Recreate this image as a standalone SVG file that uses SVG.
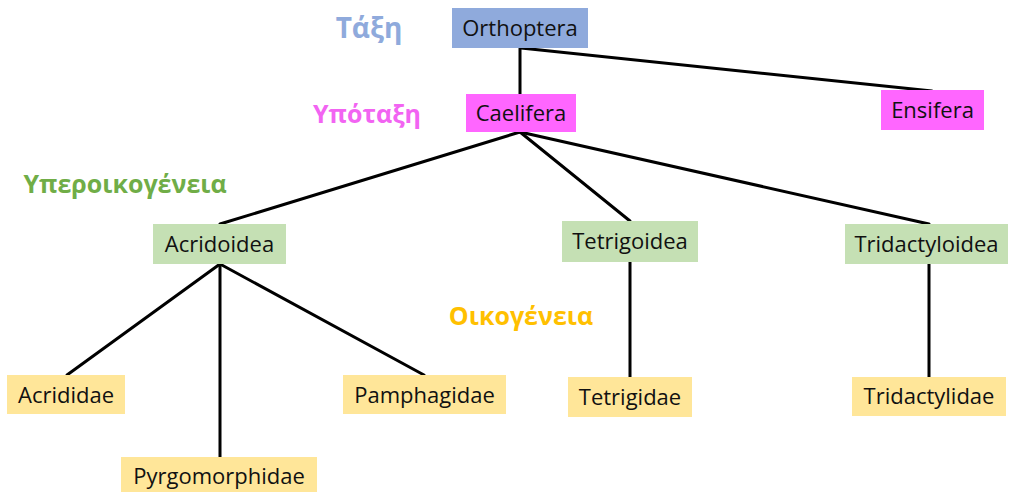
<svg xmlns="http://www.w3.org/2000/svg" width="1010" height="492" viewBox="0 0 1010 492">
<style>
.t{font-family:"Open Sans","Liberation Sans",sans-serif;font-size:22px;fill:#111;text-anchor:middle}
.lab{font-family:"Open Sans","Liberation Sans",sans-serif;font-size:25px;font-weight:bold;text-anchor:middle}
.blue{fill:#8faadc}.pink{fill:#ff66ff}.green{fill:#c5e0b4}.yellow{fill:#ffe699}
.conn line{stroke:#000;stroke-width:3;stroke-linecap:round}
</style>
<rect width="1010" height="492" fill="#fff"/>
<g id="labels">
<text class="lab" x="369" y="38" fill="#8faadc" style="font-size:28px">Τάξη</text>
<text class="lab" x="367" y="123" fill="#f264f2">Υπόταξη</text>
<text class="lab" x="125" y="193" fill="#70ad47">Υπεροικογένεια</text>
<text class="lab" x="521" y="325" fill="#ffc000">Οικογένεια</text>
</g>
<g class="conn" id="connectors">
<line x1="520" y1="48" x2="520" y2="94"/>
<line x1="521" y1="48" x2="932" y2="91"/>
<line x1="520" y1="132" x2="220" y2="224"/>
<line x1="520" y1="132" x2="630" y2="221"/>
<line x1="520" y1="132" x2="929" y2="224"/>
<line x1="630" y1="262" x2="630" y2="377"/>
<line x1="929" y1="264" x2="929" y2="377"/>
<line x1="220" y1="264" x2="67" y2="375"/>
<line x1="220" y1="264" x2="220" y2="457"/>
<line x1="220" y1="264" x2="424" y2="375"/>
</g>
<g id="orthoptera"><rect class="blue" x="452" y="8" width="136" height="40"/><text class="t" x="520" y="36">Orthoptera</text></g>
<g id="caelifera"><rect class="pink" x="466" y="94" width="110" height="38"/><text class="t" x="521" y="121">Caelifera</text></g>
<g id="ensifera"><rect class="pink" x="881" y="90" width="103" height="40"/><text class="t" x="932.5" y="118">Ensifera</text></g>
<g id="acridoidea"><rect class="green" x="153" y="224" width="133" height="40"/><text class="t" x="219.5" y="252">Acridoidea</text></g>
<g id="tetrigoidea"><rect class="green" x="562" y="221" width="136" height="41"/><text class="t" x="630" y="249">Tetrigoidea</text></g>
<g id="tridactyloidea"><rect class="green" x="845" y="224" width="163" height="40"/><text class="t" x="926.5" y="252">Tridactyloidea</text></g>
<g id="acrididae"><rect class="yellow" x="7" y="375" width="118" height="39"/><text class="t" x="66" y="403">Acrididae</text></g>
<g id="pamphagidae"><rect class="yellow" x="343" y="375" width="163" height="39"/><text class="t" x="424.5" y="403">Pamphagidae</text></g>
<g id="pyrgomorphidae"><rect class="yellow" x="121" y="457" width="196" height="35"/><text class="t" x="219" y="484">Pyrgomorphidae</text></g>
<g id="tetrigidae"><rect class="yellow" x="568" y="377" width="124" height="40"/><text class="t" x="630" y="405">Tetrigidae</text></g>
<g id="tridactylidae"><rect class="yellow" x="852" y="377" width="154" height="39"/><text class="t" x="929" y="404">Tridactylidae</text></g>
</svg>
